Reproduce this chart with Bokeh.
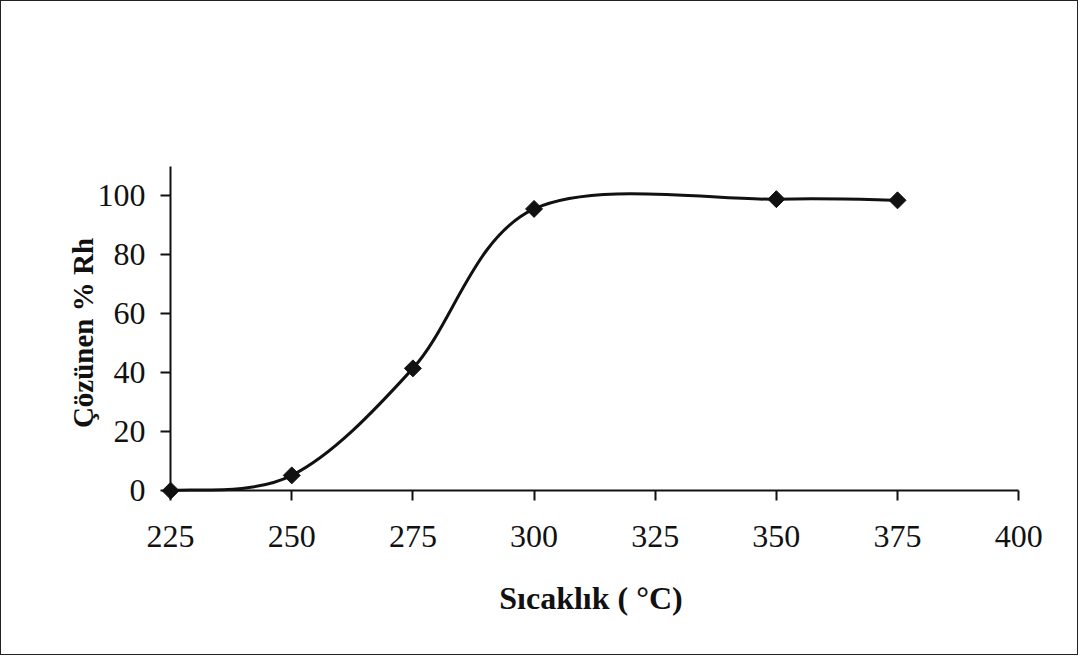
import math
from bokeh.plotting import figure
from bokeh.models import Range1d, FixedTicker, LinearAxis
from bokeh.embed import file_html
from bokeh.resources import INLINE

# Data
temperature = [225, 250, 275, 300, 350, 375]
dissolved_rh = [0.0, 5.2, 41.5, 95.6, 98.9, 98.5]
x_ticks = [225, 250, 275, 300, 325, 350, 375, 400]
y_ticks = [0, 20, 40, 60, 80, 100]

FONT = "Liberation Serif"
INK = "#111111"

p = figure(width=1078, height=655, output_backend="svg", toolbar_location=None,
           x_range=Range1d(222.5, 401), y_range=Range1d(-4, 111),
           min_border_left=157, min_border_right=56, min_border_top=162, min_border_bottom=154,
           background_fill_color="white", border_fill_color="white")
p.styles = {"border": "1.5px solid #222"}
p.outline_line_color = None
p.grid.visible = False

# Excel-style smoothed line: cubic Bezier segments whose control points come from the data
pts = list(zip(temperature, dissolved_rh))
x0, y0, x1, y1, cx0, cy0, cx1, cy1 = [], [], [], [], [], [], [], []
for i in range(len(pts) - 1):
    a, b = pts[i], pts[i + 1]
    pa = pts[max(i - 1, 0)]
    nb = pts[min(i + 2, len(pts) - 1)]
    x0.append(a[0]); y0.append(a[1]); x1.append(b[0]); y1.append(b[1])
    cx0.append(a[0] + (b[0] - pa[0]) / 6); cy0.append(a[1] + (b[1] - pa[1]) / 6)
    cx1.append(b[0] - (nb[0] - a[0]) / 6); cy1.append(b[1] - (nb[1] - a[1]) / 6)

p.bezier(x0=x0, y0=y0, x1=x1, y1=y1, cx0=cx0, cy0=cy0, cx1=cx1, cy1=cy1,
         line_color=INK, line_width=3)
p.scatter(temperature, dissolved_rh, marker="square", size=12, angle=math.pi / 4,
          fill_color=INK, line_color=INK)

# Label axes on the frame sides: tick labels and titles only
for ax in (p.xaxis, p.yaxis):
    ax.axis_line_color = None
    ax.major_tick_line_color = None
    ax.major_tick_in = 0
    ax.major_tick_out = 0
    ax.minor_tick_line_color = None
    ax.major_label_text_font = FONT
    ax.major_label_text_font_size = "32px"
    ax.major_label_text_color = INK
    ax.axis_label_text_font = FONT
    ax.axis_label_text_font_style = "bold"
    ax.axis_label_text_color = INK

p.xaxis.ticker = FixedTicker(ticks=x_ticks)
p.yaxis.ticker = FixedTicker(ticks=y_ticks)
p.xaxis.axis_label = "Sıcaklık ( °C)"
p.yaxis.axis_label = "Çözünen % Rh"
p.xaxis.axis_label_text_font_size = "32px"
p.yaxis.axis_label_text_font_size = "29px"
p.xaxis.major_label_standoff = 23
p.yaxis.major_label_standoff = 13
p.xaxis.axis_label_standoff = 30
p.yaxis.axis_label_standoff = -4

# Axis lines and tick marks placed at x = 225 and y = 0
def rule_axis(ticks, bounds, loc):
    ax = LinearAxis(ticker=FixedTicker(ticks=ticks), bounds=bounds, fixed_location=loc)
    ax.axis_line_color = INK
    ax.axis_line_width = 2
    ax.major_tick_line_color = INK
    ax.major_tick_line_width = 2
    ax.major_tick_in = 10
    ax.major_tick_out = 0
    ax.minor_tick_line_color = None
    ax.major_label_text_font_size = "0px"
    ax.major_label_text_color = None
    ax.major_label_standoff = 0
    return ax

p.add_layout(rule_axis(y_ticks, (0, 110), 225), "right")
p.add_layout(rule_axis(x_ticks, (225, 400), 0), "above")

open("out.html", "w").write(file_html(p, INLINE))
